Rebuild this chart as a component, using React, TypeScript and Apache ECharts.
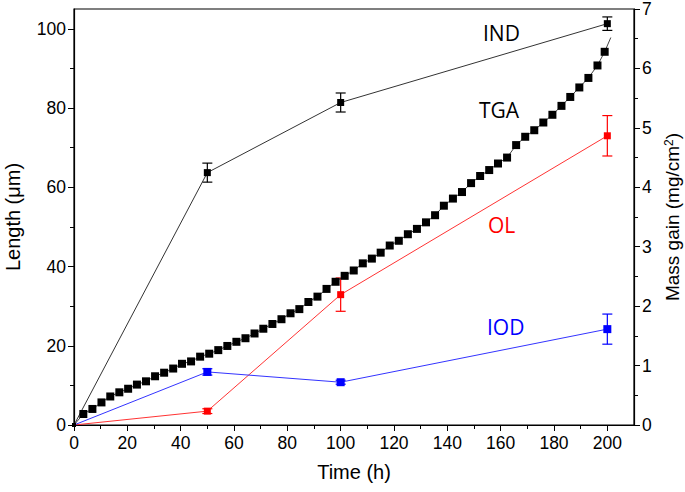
import React, { useEffect, useRef } from "react";
import * as echarts from "echarts";

// Length series (left axis, µm)
const lenTime = [0, 50, 100, 200];
const indLen = [0, 63.7, 81.4, 101.3];
const indErr = [0, 2.4, 2.4, 1.7];
const olLen = [0, 3.5, 32.9, 73.0];
const olErr = [0, 0.6, 4.2, 5.1];
const iodLen = [0, 13.4, 10.8, 24.2];
const iodErr = [0, 0.8, 0.5, 3.8];

// TGA mass gain (right axis, mg/cm²)
const tgaTime = [0, 3.5, 6.9, 10.3, 13.6, 17.0, 20.3, 23.6, 27.0, 30.4, 33.8, 37.2, 40.5, 43.9, 47.3, 50.7, 54.1, 57.5, 60.9, 64.3, 67.7, 71.0, 74.4, 77.8, 81.2, 84.5, 87.9, 91.3, 94.7, 98.1, 101.5, 104.9, 108.3, 111.7, 115.0, 118.4, 121.8, 125.2, 128.6, 132.0, 135.4, 138.7, 142.1, 145.5, 148.9, 152.3, 155.7, 159.0, 162.4, 165.8, 169.2, 172.6, 176.0, 179.4, 182.8, 186.1, 189.5, 192.9, 196.3, 199.0, 201.3];
const tgaMass = [0, 0.185, 0.27, 0.38, 0.48, 0.55, 0.61, 0.68, 0.735, 0.82, 0.88, 0.95, 1.03, 1.07, 1.15, 1.2, 1.26, 1.33, 1.40, 1.46, 1.54, 1.62, 1.70, 1.78, 1.88, 1.95, 2.07, 2.16, 2.29, 2.41, 2.51, 2.60, 2.72, 2.80, 2.90, 3.02, 3.10, 3.21, 3.30, 3.41, 3.53, 3.69, 3.81, 3.92, 4.07, 4.19, 4.29, 4.40, 4.50, 4.71, 4.85, 4.96, 5.09, 5.22, 5.37, 5.52, 5.68, 5.84, 6.05, 6.28, 6.52];

const xTicks = [0, 20, 40, 60, 80, 100, 120, 140, 160, 180, 200];
const yLeftTicks = [0, 20, 40, 60, 80, 100];

const AXIS_FONT = "'Liberation Sans', Arial, sans-serif";
const NOTE_FONT = "'Open Sans', 'Noto Sans', sans-serif";

function pointData(times: number[], vals: number[], big: number, small: number) {
  return times.map((t, i) => ({
    value: [t, vals[i]],
    symbolSize: t === 0 ? small : big,
  }));
}

function errorSeries(name: string, color: string, times: number[], vals: number[], errs: number[]) {
  return {
    type: "custom",
    name: name + "-err",
    xAxisIndex: 0,
    yAxisIndex: 0,
    z: 4,
    data: times.map((t, i) => [t, vals[i], errs[i]]).filter((d) => d[2] > 0),
    renderItem: (params: any, api: any) => {
      const x = api.value(0);
      const y = api.value(1);
      const e = api.value(2);
      const hi = api.coord([x, y + e]);
      const lo = api.coord([x, y - e]);
      const w = 5;
      const style = { stroke: color, lineWidth: 1.2 };
      return {
        type: "group",
        children: [
          { type: "line", shape: { x1: hi[0], y1: hi[1], x2: lo[0], y2: lo[1] }, style },
          { type: "line", shape: { x1: hi[0] - w, y1: hi[1], x2: hi[0] + w, y2: hi[1] }, style },
          { type: "line", shape: { x1: lo[0] - w, y1: lo[1], x2: lo[0] + w, y2: lo[1] }, style },
        ],
      };
    },
  };
}

export default function App() {
  const ref = useRef<HTMLDivElement>(null);
  useEffect(() => {
    if (!ref.current) return;
    document.body.style.margin = "0";
    const chart = echarts.init(ref.current, null, { renderer: "svg" });
    const tgaData = tgaTime.map((t, i) => {
      const last = i === tgaTime.length - 1;
      return {
        value: [t, tgaMass[i]],
        symbol: last ? "none" : "rect",
        symbolSize: t === 0 ? 4 : 8,
      };
    });
    const axisLine = { show: true, lineStyle: { color: "#000", width: 1.2 } };
    const axisLabel = { color: "#000", fontSize: 17.5, fontFamily: AXIS_FONT };
    const nameStyle = { color: "#000", fontSize: 20, fontFamily: AXIS_FONT };
    chart.setOption({
      animation: false,
      backgroundColor: "#fff",
      grid: {
        left: 74,
        right: 51,
        top: 9,
        bottom: 67,
        containLabel: false,
        outerBoundsMode: "none",
        show: true,
        borderColor: "#000",
        borderWidth: 1.2,
      },
      xAxis: {
        type: "value",
        min: 0,
        max: 210,
        interval: 20,
        name: "Time (h)",
        nameLocation: "middle",
        nameGap: 37,
        nameTextStyle: nameStyle,
        axisLine,
        axisTick: { show: true, inside: false, length: 6, customValues: xTicks, lineStyle: { color: "#000" } },
        minorTick: { show: true, splitNumber: 2, length: 4, lineStyle: { color: "#000" } },
        axisLabel: { ...axisLabel, margin: 9, customValues: xTicks },
        splitLine: { show: false },
      },
      yAxis: [
        {
          type: "value",
          min: 0,
          max: 105,
          interval: 20,
          position: "left",
          name: "Length (\u03bcm)",
          nameLocation: "middle",
          nameGap: 51,
          nameTextStyle: nameStyle,
          axisLine,
          axisTick: { show: true, length: 6, customValues: yLeftTicks, lineStyle: { color: "#000" } },
          minorTick: { show: true, splitNumber: 2, length: 4, lineStyle: { color: "#000" } },
          axisLabel: { ...axisLabel, margin: 8, customValues: yLeftTicks },
          splitLine: { show: false },
        },
        {
          type: "value",
          min: 0,
          max: 7,
          interval: 1,
          position: "right",
          name: "Mass gain (mg/cm{sup|2})",
          nameLocation: "middle",
          nameGap: 28,
          nameRotate: 90,
          nameTextStyle: {
            ...nameStyle,
            fontSize: 19,
            rich: { sup: { fontSize: 12, fontFamily: AXIS_FONT, color: "#000", verticalAlign: "top", lineHeight: 12 } },
          },
          axisLine,
          axisTick: { show: true, length: 6, lineStyle: { color: "#000" } },
          minorTick: { show: true, splitNumber: 2, length: 4, lineStyle: { color: "#000" } },
          axisLabel: { ...axisLabel, margin: 8 },
          splitLine: { show: false },
        },
      ],
      series: [
        {
          type: "line",
          name: "IND",
          yAxisIndex: 0,
          symbol: "rect",
          data: pointData(lenTime, indLen, 7, 4),
          lineStyle: { color: "#333", width: 1 },
          itemStyle: { color: "#000" },
          z: 5,
        },
        errorSeries("IND", "#000", lenTime, indLen, indErr),
        {
          type: "line",
          name: "OL",
          yAxisIndex: 0,
          symbol: "rect",
          data: pointData(lenTime, olLen, 7, 4),
          lineStyle: { color: "#ff3333", width: 1 },
          itemStyle: { color: "#ff0000" },
          z: 5,
        },
        errorSeries("OL", "#ff0000", lenTime, olLen, olErr),
        {
          type: "line",
          name: "IOD",
          yAxisIndex: 0,
          symbol: "rect",
          data: pointData(lenTime, iodLen, 8, 4),
          lineStyle: { color: "#3333ff", width: 1 },
          itemStyle: { color: "#0000ff" },
          z: 5,
        },
        errorSeries("IOD", "#0000ff", lenTime, iodLen, iodErr),
        {
          type: "line",
          name: "TGA",
          yAxisIndex: 1,
          data: tgaData,
          lineStyle: { color: "#444", width: 1 },
          itemStyle: { color: "#000" },
          z: 6,
        },
      ],
      graphic: [
        { type: "text", left: 483, top: 22, style: { text: "IND", fill: "#000", fontSize: 21, fontFamily: NOTE_FONT } },
        { type: "text", left: 479, top: 99, style: { text: "TGA", fill: "#000", fontSize: 21, fontFamily: NOTE_FONT } },
        { type: "text", left: 488, top: 214, style: { text: "OL", fill: "#ff0000", fontSize: 21, fontFamily: NOTE_FONT } },
        { type: "text", left: 487, top: 316, style: { text: "IOD", fill: "#0000ff", fontSize: 21, fontFamily: NOTE_FONT } },
      ],
    });
    return () => chart.dispose();
  }, []);
  return <div ref={ref} style={{ width: 685, height: 492 }} />;
}
